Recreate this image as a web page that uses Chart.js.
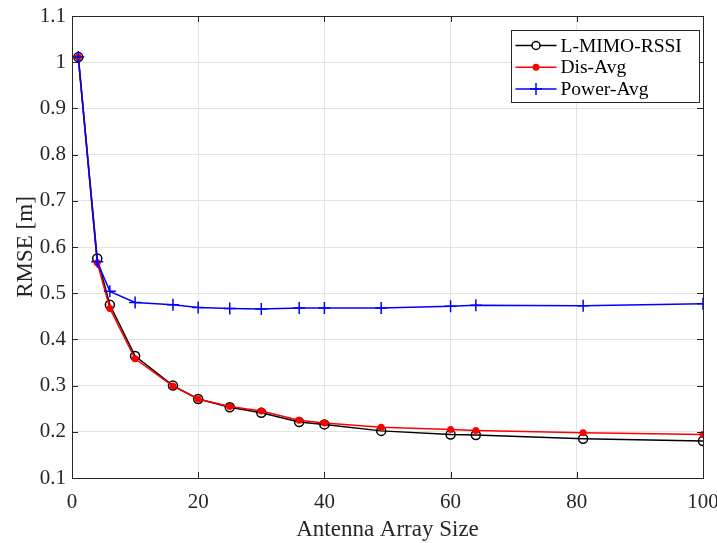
<!DOCTYPE html>
<html>
<head>
<meta charset="utf-8">
<script src="https://cdn.jsdelivr.net/npm/chart.js@4/dist/chart.umd.min.js"></script>
<style>
  html, body { margin: 0; padding: 0; background: #fff; }
  #wrap { width: 717px; height: 543px; }
</style>
</head>
<body>
<div id="wrap"><canvas id="rmse-chart" width="717" height="543"></canvas></div>
<script>
const antennaSizes = [1, 4, 6, 10, 16, 20, 25, 30, 36, 40, 49, 60, 64, 81, 100]
const lmimoRssi = [1.011, 0.575, 0.475, 0.364, 0.300, 0.271, 0.253, 0.241, 0.221, 0.216, 0.202, 0.194, 0.193, 0.185, 0.180]
const disAvg = [1.011, 0.566, 0.467, 0.358, 0.299, 0.271, 0.255, 0.245, 0.225, 0.219, 0.210, 0.205, 0.203, 0.198, 0.194]
const powerAvg = [1.011, 0.568, 0.504, 0.480, 0.475, 0.469, 0.467, 0.466, 0.468, 0.468, 0.468, 0.472, 0.474, 0.473, 0.477]

const xTickLabels = ['0', '20', '40', '60', '80', '100']
const yTickLabels = ['0.1', '0.2', '0.3', '0.4', '0.5', '0.6', '0.7', '0.8', '0.9', '1', '1.1']

const seriesNames = ['L-MIMO-RSSI', 'Dis-Avg', 'Power-Avg']

const axisColor = '#262626'
const gridColor = '#e3e3e3'
const fontFamily = '"Liberation Serif", "Times New Roman", serif'

function points(values) {
  return antennaSizes.map((x, i) => ({ x: x, y: values[i] }))
}

function labelFor(list, value) {
  const found = list.find(l => Math.abs(Number(l) - value) < 1e-6)
  return found === undefined ? '' : found
}

// MATLAB style box with inward tick marks
const boxPlugin = {
  id: 'box',
  afterDraw(chart) {
    const { ctx, chartArea: a, scales } = chart
    const len = 6
    ctx.save()
    ctx.strokeStyle = axisColor
    ctx.lineWidth = 1
    ctx.beginPath()
    scales.x.ticks.forEach(t => {
      const px = Math.round(scales.x.getPixelForValue(t.value)) + 0.5
      ctx.moveTo(px, a.bottom); ctx.lineTo(px, a.bottom - len)
      ctx.moveTo(px, a.top); ctx.lineTo(px, a.top + len)
    })
    scales.y.ticks.forEach(t => {
      const py = Math.round(scales.y.getPixelForValue(t.value)) + 0.5
      ctx.moveTo(a.left, py); ctx.lineTo(a.left + len, py)
      ctx.moveTo(a.right, py); ctx.lineTo(a.right - len, py)
    })
    ctx.stroke()
    ctx.strokeRect(Math.round(a.left) + 0.5, Math.round(a.top) + 0.5,
      Math.round(a.right - a.left), Math.round(a.bottom - a.top))
    ctx.restore()
  }
}

// legend drawn inside the plot, top right
const legendPlugin = {
  id: 'insideLegend',
  afterDraw(chart) {
    const { ctx, chartArea: a } = chart
    const w = 188, h = 72
    const x0 = Math.round(a.right - 4 - w) + 0.5
    const y0 = Math.round(a.top + 14) + 0.5
    ctx.save()
    ctx.fillStyle = '#fff'
    ctx.fillRect(x0, y0, w, h)
    ctx.strokeStyle = axisColor
    ctx.lineWidth = 1
    ctx.strokeRect(x0, y0, w, h)
    ctx.font = '19.5px ' + fontFamily
    ctx.textBaseline = 'middle'
    chart.data.datasets.forEach((ds, i) => {
      const cy = y0 + 15 + i * 21.7
      const lx0 = x0 + 4, lx1 = x0 + 45, mx = (lx0 + lx1) / 2
      ctx.strokeStyle = ds.borderColor
      ctx.lineWidth = 1.5
      ctx.beginPath()
      ctx.moveTo(lx0, cy); ctx.lineTo(lx1, cy)
      ctx.stroke()
      if (ds.pointStyle === 'cross') {
        ctx.beginPath()
        ctx.moveTo(mx - 6, cy); ctx.lineTo(mx + 6, cy)
        ctx.moveTo(mx, cy - 6); ctx.lineTo(mx, cy + 6)
        ctx.stroke()
      } else if (i === 0) {
        ctx.fillStyle = '#fff'
        ctx.beginPath(); ctx.arc(mx, cy, 4, 0, Math.PI * 2); ctx.fill(); ctx.stroke()
      } else {
        ctx.fillStyle = ds.backgroundColor
        ctx.beginPath(); ctx.arc(mx, cy, 3.5, 0, Math.PI * 2); ctx.fill()
      }
      ctx.fillStyle = '#000'
      ctx.fillText(seriesNames[i], x0 + 49, cy + 1)
    })
    ctx.restore()
  }
}

const ctx = document.getElementById('rmse-chart').getContext('2d')

new Chart(ctx, {
  type: 'line',
  data: {
    datasets: [
      {
        label: seriesNames[0],
        data: points(lmimoRssi),
        borderColor: '#000000',
        backgroundColor: 'rgba(0,0,0,0)',
        borderWidth: 1.5,
        pointStyle: 'circle',
        pointRadius: 4.5,
        pointBorderWidth: 1.5,
        tension: 0,
        order: 3
      },
      {
        label: seriesNames[1],
        data: points(disAvg),
        borderColor: '#ff0000',
        backgroundColor: '#ff0000',
        borderWidth: 1.5,
        pointStyle: 'circle',
        pointRadius: 3.5,
        pointBorderWidth: 0,
        tension: 0,
        order: 2
      },
      {
        label: seriesNames[2],
        data: points(powerAvg),
        borderColor: '#0000ff',
        backgroundColor: '#0000ff',
        borderWidth: 1.5,
        pointStyle: 'cross',
        pointRadius: 6,
        pointBorderWidth: 1.5,
        tension: 0,
        order: 1
      }
    ]
  },
  options: {
    responsive: false,
    animation: false,
    layout: { padding: { top: 16, right: 14, left: 0, bottom: 0 } },
    scales: {
      x: {
        type: 'linear',
        min: 0,
        max: 100,
        ticks: {
          stepSize: 20,
          color: axisColor,
          padding: 12,
          maxRotation: 0,
          font: { family: fontFamily, size: 21 },
          callback: v => labelFor(xTickLabels, v)
        },
        grid: { color: gridColor, drawTicks: false },
        border: { display: false },
        title: {
          display: true,
          text: 'Antenna Array Size',
          color: axisColor,
          font: { family: fontFamily, size: 23, lineHeight: 1 },
          padding: { top: 0, bottom: 2 }
        },
        afterFit(scale) {
          scale.height = 65
          scale.paddingLeft = 0
          scale.paddingRight = 0
        }
      },
      y: {
        type: 'linear',
        min: 0.1,
        max: 1.1,
        ticks: {
          stepSize: 0.1,
          color: axisColor,
          padding: 6,
          font: { family: fontFamily, size: 21 },
          callback: v => labelFor(yTickLabels, v)
        },
        grid: { color: gridColor, drawTicks: false },
        border: { display: false },
        title: {
          display: true,
          text: 'RMSE [m]',
          color: axisColor,
          font: { family: fontFamily, size: 23, lineHeight: 1 },
          padding: { top: 14, bottom: 0 }
        },
        afterFit(scale) {
          scale.width = 72
          scale.paddingTop = 0
          scale.paddingBottom = 0
        }
      }
    },
    plugins: {
      legend: { display: false },
      tooltip: { enabled: false }
    }
  },
  plugins: [boxPlugin, legendPlugin]
})
</script>
</body>
</html>
